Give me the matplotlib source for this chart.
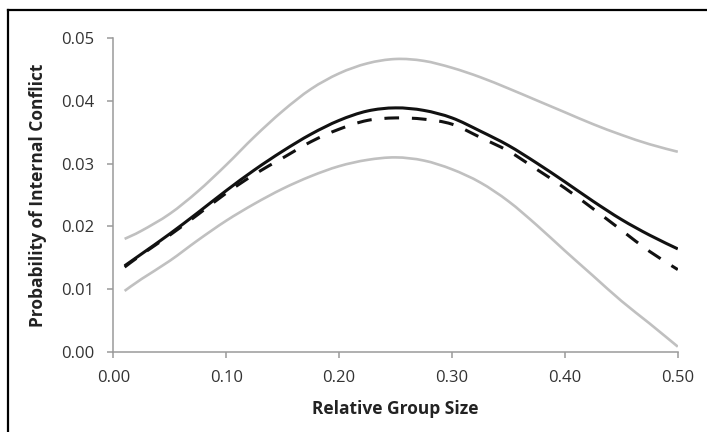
import matplotlib
matplotlib.use("Agg")
import matplotlib.pyplot as plt
from matplotlib.lines import Line2D
from matplotlib.path import Path
from matplotlib.patches import PathPatch

group_size = [0.01, 0.025, 0.05, 0.075, 0.10, 0.125, 0.15, 0.175, 0.20, 0.225, 0.25,
              0.275, 0.30, 0.325, 0.35, 0.375, 0.40, 0.425, 0.45, 0.475, 0.50]
prob_solid = [0.0137, 0.0156, 0.0188, 0.0222, 0.0257, 0.0290, 0.0320, 0.0347, 0.0369, 0.0384, 0.0389,
              0.0385, 0.0373, 0.0352, 0.0329, 0.0301, 0.0271, 0.0240, 0.0211, 0.0186, 0.0164]
prob_dashed = [0.0135, 0.0155, 0.0186, 0.0219, 0.0253, 0.0283, 0.0309, 0.0335, 0.0355, 0.0369, 0.0373,
               0.0371, 0.0363, 0.0342, 0.0320, 0.0291, 0.0261, 0.0228, 0.0194, 0.0160, 0.0131]
ci_upper = [0.0180, 0.0193, 0.0220, 0.0256, 0.0298, 0.0343, 0.0384, 0.0419, 0.0444, 0.0460, 0.0467,
            0.0464, 0.0453, 0.0438, 0.0420, 0.0401, 0.0382, 0.0363, 0.0346, 0.0331, 0.0319]
ci_lower = [0.0097, 0.0116, 0.0145, 0.0178, 0.0209, 0.0236, 0.0260, 0.0280, 0.0296, 0.0306, 0.0310,
            0.0305, 0.0291, 0.0270, 0.0240, 0.0202, 0.0161, 0.0121, 0.0081, 0.0045, 0.0008]

x_ticks = [0.00, 0.10, 0.20, 0.30, 0.40, 0.50]
y_ticks = [0.00, 0.01, 0.02, 0.03, 0.04, 0.05]
x_label = "Relative Group Size"
y_label = "Probability of Internal Conflict"

plt.rcParams['font.family'] = ['Open Sans', 'DejaVu Sans']


def smooth_path(xs, ys):
    """Excel-style smoothed line: cubic Bezier segments through the data points."""
    pts = list(zip(xs, ys))
    n = len(pts)
    verts = [pts[0]]
    codes = [Path.MOVETO]
    for i in range(n - 1):
        p0 = pts[i - 1] if i > 0 else pts[i]
        p1 = pts[i]
        p2 = pts[i + 1]
        p3 = pts[i + 2] if i + 2 < n else pts[i + 1]
        c1 = (p1[0] + (p2[0] - p0[0]) / 6.0, p1[1] + (p2[1] - p0[1]) / 6.0)
        c2 = (p2[0] - (p3[0] - p1[0]) / 6.0, p2[1] - (p3[1] - p1[1]) / 6.0)
        verts += [c1, c2, p2]
        codes += [Path.CURVE4, Path.CURVE4, Path.CURVE4]
    return Path(verts, codes)


fig = plt.figure(figsize=(7.07, 4.32), dpi=100)
ax = fig.add_axes([0.1603, 0.1859, 0.9587 - 0.1603, 0.7254])

gray = '#c0c0c0'
for series, color, lw, ls in [
    (ci_upper, gray, 1.9, '-'),
    (ci_lower, gray, 1.9, '-'),
    (prob_solid, '#111111', 2.2, '-'),
    (prob_dashed, '#111111', 2.2, (0, (4.8, 4.2))),
]:
    patch = PathPatch(smooth_path(group_size, series), fill=False, edgecolor=color,
                      linewidth=lw, linestyle=ls, capstyle='butt', joinstyle='round')
    ax.add_patch(patch)

ax.set_xlim(0, 0.5)
ax.set_ylim(0, 0.05)
ax.set_xticks(x_ticks)
ax.set_yticks(y_ticks)
ax.set_xticklabels([f"{v:.2f}" for v in x_ticks])
ax.set_yticklabels([f"{v:.2f}" for v in y_ticks])

for s in ['top', 'right']:
    ax.spines[s].set_visible(False)
for s in ['left', 'bottom']:
    ax.spines[s].set_color('#9a9a9a')
    ax.spines[s].set_linewidth(1.1)

ax.tick_params(axis='both', direction='out', length=4.5, width=1.1, color='#9a9a9a',
               labelsize=12, labelcolor='#333333')
ax.tick_params(axis='x', pad=9)
ax.tick_params(axis='y', pad=9)

ax.set_xlabel(x_label, fontsize=12.5, fontweight='bold', color='#222222')
ax.set_ylabel(y_label, fontsize=12.5, fontweight='bold', color='#222222')
ax.xaxis.set_label_coords(0.5, -0.155)
ax.yaxis.set_label_coords(-0.118, 0.5)

# outer frame (top and left edges)
fig.add_artist(Line2D([8 / 707, 1.0], [1 - 10 / 432, 1 - 10 / 432], transform=fig.transFigure,
                      color='black', lw=1.6))
fig.add_artist(Line2D([8 / 707, 8 / 707], [0, 1 - 10 / 432], transform=fig.transFigure,
                      color='black', lw=1.6))

fig.savefig("out.png", dpi=100)
